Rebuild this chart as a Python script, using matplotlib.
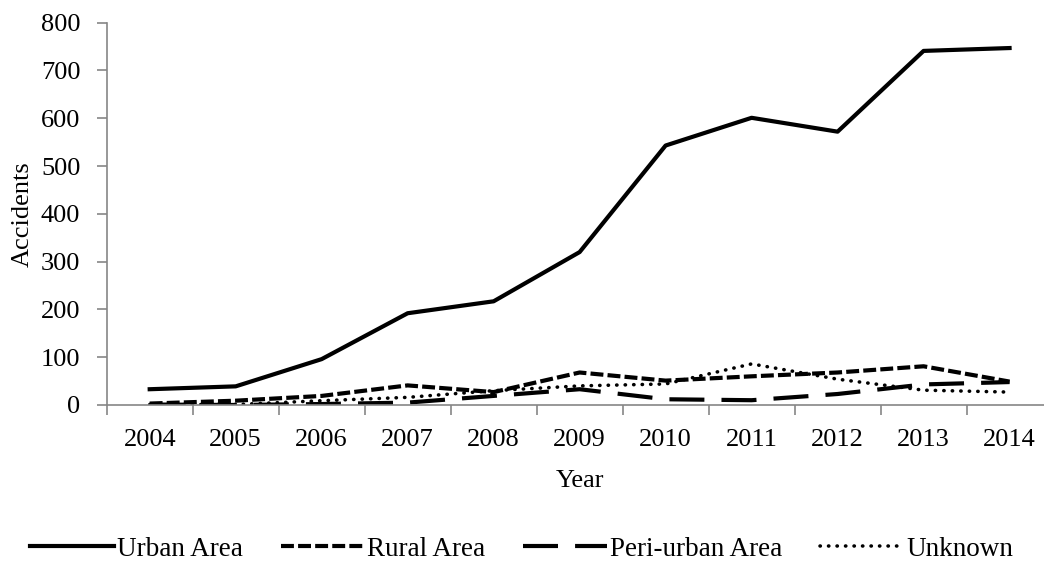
import matplotlib.pyplot as plt

plt.rcParams['font.family'] = ['Liberation Serif', 'DejaVu Serif']
plt.rcParams['font.size'] = 19

years = ["2004", "2005", "2006", "2007", "2008", "2009", "2010", "2011", "2012", "2013", "2014"]
urban = [33, 39, 96, 192, 217, 320, 543, 601, 572, 741, 747]
rural = [3, 9, 19, 41, 27, 68, 51, 60, 68, 81, 49]
peri_urban = [1, 0, 2, 5, 19, 33, 12, 10, 23, 43, 48]
unknown = [1, 1, 9, 16, 30, 40, 44, 86, 54, 31, 27]

fig = plt.figure(figsize=(10.44, 5.65), dpi=100)
ax = fig.add_axes([0.1022, 0.2832, 0.906, 0.6766])

x = range(len(years))
lw = 3.0
ax.plot(x, urban, color='black', lw=lw, label='Urban Area')
ax.plot(x, rural, color='black', lw=lw, linestyle=(0, (3.1, 1.0)), label='Rural Area')
ax.plot(x, peri_urban, color='black', lw=lw, linestyle=(0, (8.4, 4.1)), label='Peri-urban Area')
ax.plot(x, unknown, color='black', lw=lw * 0.85, linestyle=(0, (0.1, 2.3)),
        dash_capstyle='round', label='Unknown')

ax.set_xlim(-0.5, len(years) - 0.5)
ax.set_ylim(0, 800)
ax.set_yticks(range(0, 801, 100))
ax.set_xticks(list(x))
ax.set_xticklabels(years)
ax.set_xticks([i + 0.5 for i in range(-1, len(years))], minor=True)
ax.tick_params(axis='x', which='major', length=0, pad=17)
ax.tick_params(axis='x', which='minor', length=7, color='#868686', width=1.2)
ax.tick_params(axis='y', length=7, color='#868686', width=1.2, pad=12)

for side in ['top', 'right']:
    ax.spines[side].set_visible(False)
for side in ['left', 'bottom']:
    ax.spines[side].set_color('#868686')
    ax.spines[side].set_linewidth(1.2)

ax.set_xlabel('Year', labelpad=14)
ax.set_ylabel('Accidents', labelpad=5)

fig.legend(loc='center', bbox_to_anchor=(0.5, 0.028), ncol=4, frameon=False, fontsize=19.5,
           handlelength=3.1, columnspacing=1.4, handletextpad=0.1,
           borderpad=0, borderaxespad=0)

fig.savefig('out.png', dpi=100)
